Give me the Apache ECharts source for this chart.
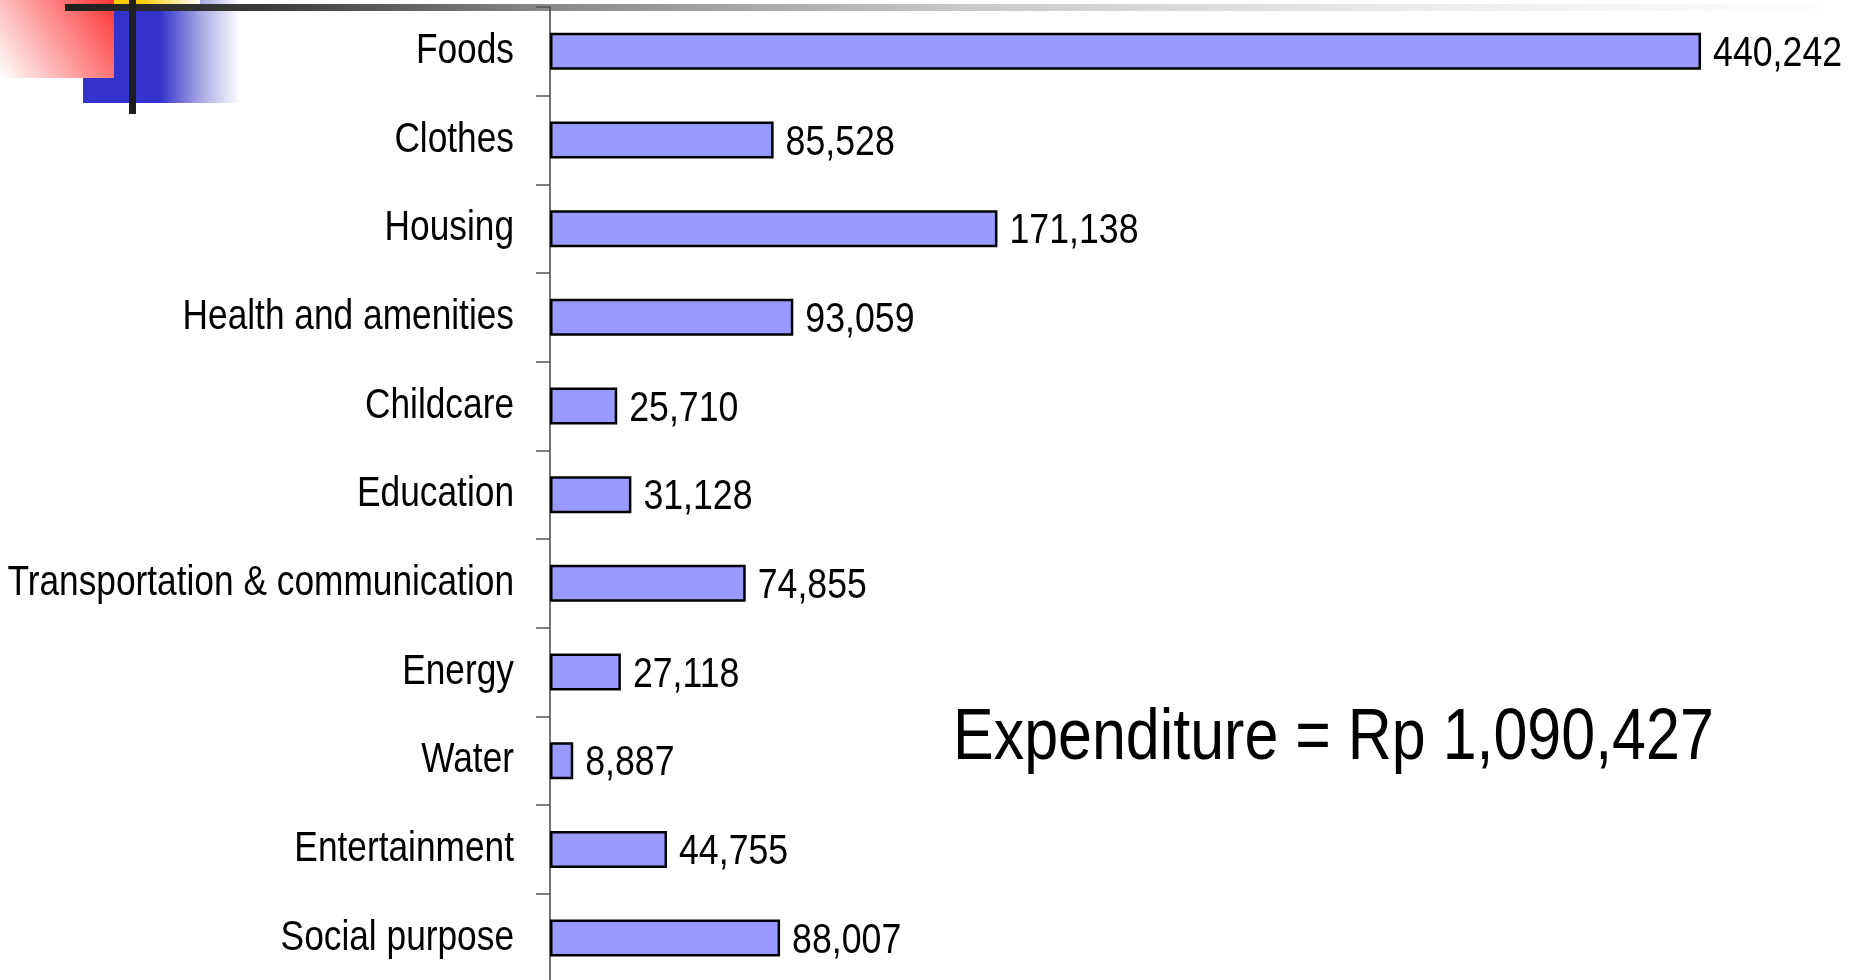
<!DOCTYPE html>
<html>
<head>
<meta charset="utf-8">
<title>Household expenditure</title>
<script src="https://cdn.jsdelivr.net/npm/echarts@6/dist/echarts.min.js"></script>
<style>
  html, body { margin: 0; padding: 0; background: #ffffff; }
  #chart { width: 1856px; height: 980px; }
</style>
</head>
<body>
<div id="chart"></div>
<script>
// Monthly expenditure by category (Rp)
const categories = [
  'Foods', 'Clothes', 'Housing', 'Health and amenities', 'Childcare',
  'Education', 'Transportation & communication', 'Energy', 'Water',
  'Entertainment', 'Social purpose'
];
const values = [440242, 85528, 171138, 93059, 25710, 31128, 74855, 27118, 8887, 44755, 88007];

// Arial-metric face, squeezed horizontally to a narrow cut
const FONT = "'Liberation Sans', Arial, sans-serif";
const fmt = v => v.toLocaleString('en-US');
const total = values.reduce((a, b) => a + b, 0);

const chart = echarts.init(document.getElementById('chart'), null, { renderer: 'canvas' });
const LG = echarts.graphic.LinearGradient;

chart.setOption({
  animation: false,
  backgroundColor: '#ffffff',
  grid: {
    left: 550, top: 7, width: 1255, height: 975.4,
    containLabel: false, outerBoundsMode: 'none'
  },
  xAxis: { type: 'value', min: 0, max: 480000, show: false },
  yAxis: {
    type: 'category',
    data: categories,
    inverse: true,
    axisLine: { show: true, lineStyle: { color: '#444444', width: 1.5 } },
    axisTick: { show: true, length: 14, lineStyle: { color: '#555555', width: 1.5 } },
    axisLabel: { show: false },
    splitLine: { show: false }
  },
  series: [{
    type: 'bar',
    data: values,
    barWidth: 37,
    itemStyle: { color: '#9999ff', borderColor: '#000000', borderWidth: 2.5 },
    label: { show: false }
  }]
});

// Decorative corner ornament and top rule
const decorations = [
  {
    type: 'rect', z: -10, silent: true,
    shape: { x: 83, y: 0, width: 157, height: 103 },
    style: { fill: new LG(0, 0, 1, 0, [
      { offset: 0, color: '#3333cc' },
      { offset: 0.49, color: '#3333cc' },
      { offset: 0.75, color: '#a8a8e4' },
      { offset: 1, color: '#ffffff' }
    ]) }
  },
  {
    type: 'rect', z: -9, silent: true,
    shape: { x: 0, y: 0, width: 114, height: 78 },
    style: { fill: new LG(1, 0, 0, 1, [
      { offset: 0, color: '#ff3333' },
      { offset: 1, color: '#ffffff' }
    ]) }
  },
  {
    type: 'rect', z: -8, silent: true,
    shape: { x: 114, y: 0, width: 86, height: 5 },
    style: { fill: new LG(0, 0, 1, 0, [
      { offset: 0, color: '#ffcc00' },
      { offset: 0.3, color: '#ffcc00' },
      { offset: 1, color: '#ffffff' }
    ]) }
  },
  {
    type: 'rect', z: -7, silent: true,
    shape: { x: 65, y: 4, width: 1791, height: 7 },
    style: { fill: new LG(0, 0, 1, 0, [
      { offset: 0, color: '#1e1e1e' },
      { offset: 0.11, color: '#3a3a3a' },
      { offset: 0.27, color: '#8a8a8a' },
      { offset: 0.5, color: '#c8c8c8' },
      { offset: 0.75, color: '#ececec' },
      { offset: 1, color: '#ffffff' }
    ]) }
  },
  {
    type: 'rect', z: -6, silent: true,
    shape: { x: 129, y: 0, width: 7, height: 114 },
    style: { fill: '#1e1e1e' }
  }
];

// Category names and value labels, placed through the chart's own scales
const labels = [];
categories.forEach((name, i) => {
  const [x0, yc] = chart.convertToPixel({ gridIndex: 0 }, [0, i]);
  const [xv] = chart.convertToPixel({ gridIndex: 0 }, [values[i], i]);
  labels.push({
    type: 'text', z: 10, silent: true,
    x: x0 - 36, y: yc, scaleX: 0.84,
    style: {
      text: name, font: '42px ' + FONT, fill: '#000000',
      textAlign: 'right', textVerticalAlign: 'middle'
    }
  });
  labels.push({
    type: 'text', z: 10, silent: true,
    x: xv + 12, y: yc + 3, scaleX: 0.85,
    style: {
      text: fmt(values[i]), font: '42px ' + FONT, fill: '#000000',
      textAlign: 'left', textVerticalAlign: 'middle'
    }
  });
});

// Total expenditure caption
labels.push({
  type: 'text', z: 10, silent: true,
  x: 953, y: 739, scaleX: 0.835,
  style: {
    text: 'Expenditure = Rp ' + fmt(total),
    font: '73px ' + FONT, fill: '#000000',
    textAlign: 'left', textVerticalAlign: 'middle'
  }
});

chart.setOption({ graphic: decorations.concat(labels) });
</script>
</body>
</html>
